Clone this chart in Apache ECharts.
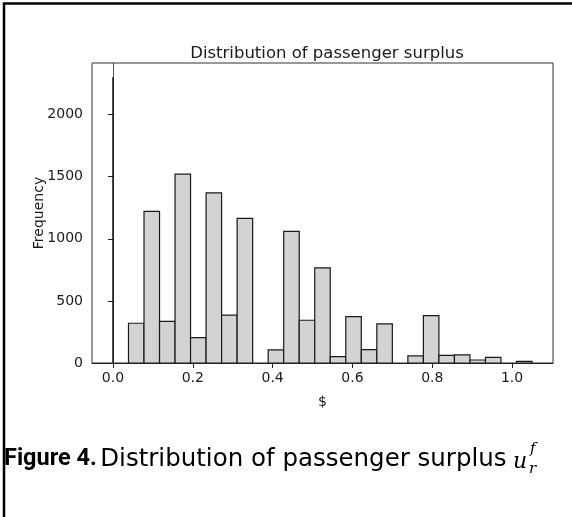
<!DOCTYPE html>
<html>
<head>
<meta charset="utf-8">
<script src="https://cdn.jsdelivr.net/npm/echarts@6/dist/echarts.min.js"></script>
<style>
html,body{margin:0;padding:0;background:#fff;}
#chart{width:572px;height:517px;}
</style>
</head>
<body>
<div id="chart"></div>
<script>
// Histogram bins: left edge, right edge, count
var binLeft  = [0.0389,0.0778,0.1167,0.1556,0.1944,0.2333,0.2722,0.3111,0.3500,0.3889,0.4278,0.4667,0.5056,0.5444,0.5833,0.6222,0.6611,0.7000,0.7389,0.7778,0.8167,0.8556,0.8944,0.9333,0.9722,1.0111];
var binRight = [0.0778,0.1167,0.1556,0.1944,0.2333,0.2722,0.3111,0.3500,0.3889,0.4278,0.4667,0.5056,0.5444,0.5833,0.6222,0.6611,0.7000,0.7389,0.7778,0.8167,0.8556,0.8944,0.9333,0.9722,1.0111,1.0500];
var counts   = [320,1220,335,1520,205,1370,385,1165,0,105,1060,344,766,52,374,108,315,0,57,382,62,65,24,46,0,13];
// Spike of values at exactly 0
var spikeX = [0.0];
var spikeCount = [2300];

var xTicks = [0.0,0.2,0.4,0.6,0.8,1.0];
var yTicks = [0,500,1000,1500,2000];

var titleText = 'Distribution of passenger surplus';
var xName = '$';
var yName = 'Frequency';

var chart = echarts.init(document.getElementById('chart'), null, {renderer:'canvas'});

var barData = [];
for (var i = 0; i < counts.length; i++) {
  if (counts[i] > 0) barData.push([binLeft[i], binRight[i], counts[i]]);
}
var spikeData = spikeX.map(function(x, i){ return [x, x, spikeCount[i]]; });

function renderBar(params, api) {
  var x0 = api.value(0), x1 = api.value(1), c = api.value(2);
  var p0 = api.coord([x0, 0]);
  var p1 = api.coord([x1, c]);
  return {
    type: 'rect',
    shape: {x: p0[0], y: p1[1], width: p1[0] - p0[0], height: p0[1] - p1[1]},
    style: {fill: '#d3d3d3', stroke: '#1a1a1a', lineWidth: 1.2}
  };
}
function renderSpike(params, api) {
  var x0 = api.value(0), c = api.value(2);
  var p0 = api.coord([x0, 0]);
  var p1 = api.coord([x0, c]);
  return {
    type: 'line',
    shape: {x1: p0[0], y1: p0[1], x2: p1[0], y2: p1[1]},
    style: {stroke: '#000', lineWidth: 1.3}
  };
}

var tickFont = 'DejaVu Sans';

chart.setOption({
  animation: false,
  backgroundColor: '#fff',
  title: {
    text: titleText,
    left: 322, top: 40, textAlign: 'center',
    textStyle: {fontFamily: tickFont, fontSize: 16.5, fontWeight: 'normal', color: '#1a1a1a'}
  },
  grid: {left: 92, right: 19, top: 63, bottom: 154, show: true, borderColor: '#333', borderWidth: 1, backgroundColor: 'transparent'},
  xAxis: {
    type: 'value', min: -0.0525, max: 1.1025,
    name: xName, nameLocation: 'middle', nameGap: 32, nameMoveOverlap: false,
    nameTextStyle: {fontFamily: tickFont, fontSize: 14, color: '#1a1a1a'},
    axisLine: {show: true, onZero: false, lineStyle: {color: '#222', width: 1}},
    axisTick: {show: true, inside: false, length: 5, customValues: xTicks, lineStyle: {color: '#222', width: 1}},
    axisLabel: {customValues: xTicks, fontFamily: tickFont, fontSize: 14, color: '#1a1a1a', margin: 8,
      formatter: function(v){ return v.toFixed(1); }},
    splitLine: {show: false}
  },
  yAxis: {
    type: 'value', min: 0, max: 2415,
    name: yName, nameLocation: 'middle', nameGap: 46, nameRotate: 90, nameMoveOverlap: false,
    nameTextStyle: {fontFamily: tickFont, fontSize: 14, color: '#1a1a1a'},
    axisLine: {show: true, lineStyle: {color: '#555', width: 1}},
    axisTick: {show: true, inside: false, length: 5, customValues: yTicks, lineStyle: {color: '#222', width: 1}},
    axisLabel: {customValues: yTicks, fontFamily: tickFont, fontSize: 14, color: '#1a1a1a', margin: 9,
      formatter: function(v){ return String(v); }},
    splitLine: {show: false}
  },
  series: [
    {type: 'custom', renderItem: renderBar, data: barData, encode: {x: [0,1], y: 2}, clip: true, z: 2},
    {type: 'custom', renderItem: renderSpike, data: spikeData, encode: {x: [0,1], y: 2}, clip: true, z: 3}
  ],
  graphic: [
    {type: 'polyline', shape: {points: [[4, 520], [4, 3.5], [572, 3.5]]},
      style: {stroke: '#000', lineWidth: 2.5, fill: null}, silent: true},
    {type: 'text', left: 4, top: 447,
      style: {
        text: '{b|Figure 4.} {r|Distribution of passenger surplus}',
        rich: {
          b: {fontFamily: 'Roboto', fontWeight: 'bold', fontSize: 23.5, fill: '#000'},
          r: {fontFamily: 'DejaVu Sans', fontWeight: 'normal', fontSize: 24.5, fill: '#000'}
        }
      }, silent: true},
    {type: 'text', left: 513, top: 451,
      style: {text: 'u', fontFamily: 'DejaVu Serif', fontStyle: 'italic', fontSize: 22, fill: '#000'}, silent: true},
    {type: 'text', left: 529, top: 462,
      style: {text: 'r', fontFamily: 'DejaVu Serif', fontStyle: 'italic', fontSize: 15, fill: '#000'}, silent: true},
    {type: 'text', left: 530, top: 442,
      style: {text: 'f', fontFamily: 'DejaVu Serif', fontStyle: 'italic', fontSize: 15, fill: '#000'}, silent: true}
  ]
});
</script>
</body>
</html>
